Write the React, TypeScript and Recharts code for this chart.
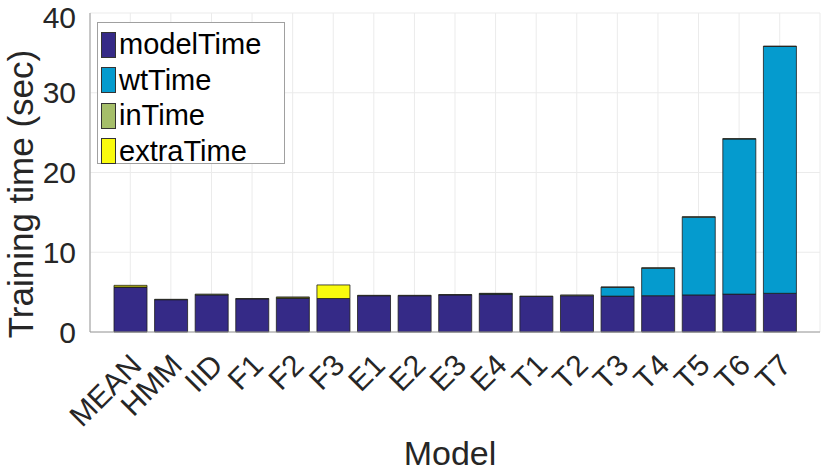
import { BarChart, Bar, XAxis, YAxis, CartesianGrid, Label } from 'recharts'

const categories = ['MEAN', 'HMM', 'IID', 'F1', 'F2', 'F3', 'E1', 'E2', 'E3', 'E4', 'T1', 'T2', 'T3', 'T4', 'T5', 'T6', 'T7']
const modelTime = [5.6, 4.05, 4.65, 4.15, 4.2, 4.2, 4.55, 4.55, 4.65, 4.7, 4.45, 4.55, 4.5, 4.55, 4.65, 4.75, 4.85]
const wtTime = [0, 0, 0, 0, 0, 0, 0, 0, 0, 0.1, 0, 0, 1.1, 3.45, 9.75, 19.45, 30.95]
const inTime = [0.05, 0.05, 0.1, 0.05, 0.1, 0, 0.05, 0.05, 0.05, 0.05, 0.05, 0.1, 0.05, 0.05, 0.05, 0.05, 0.05]
const extraTime = [0.2, 0, 0, 0, 0.1, 1.7, 0, 0, 0, 0, 0, 0, 0, 0, 0, 0, 0]
const yTicks = [0, 10, 20, 30, 40]

const series = [
  { key: 'modelTime', color: '#352a87' },
  { key: 'wtTime', color: '#059bce' },
  { key: 'inTime', color: '#a5be6a' },
  { key: 'extraTime', color: '#f9fb0e' }
]

const data = categories.map((name, i) => ({
  name,
  modelTime: modelTime[i],
  wtTime: wtTime[i],
  inTime: inTime[i],
  extraTime: extraTime[i]
}))

const font = '"Liberation Sans", Arial, Helvetica, sans-serif'
const frame = '#9a9a9a'
const ink = '#262626'

// rotated x tick labels, like MATLAB's XTickLabelRotation = 45
const XTick = (props: any) => {
  const { x, y, payload } = props
  return (
    <g transform={`translate(${x + 13},${y + 35}) rotate(-45)`}>
      <text x={0} y={0} textAnchor="end" fontSize={30} fill={ink} fontFamily={font}>
        {payload.value}
      </text>
    </g>
  )
}

const LegendBox = () => (
  <div
    style={{
      position: 'absolute',
      left: 97,
      top: 22,
      width: 188,
      height: 142,
      boxSizing: 'border-box',
      border: '1px solid #a0a0a0',
      background: '#fff',
      padding: '4px 0 0 3px',
      fontFamily: font,
      fontSize: 29,
      color: '#000',
      lineHeight: 1
    }}
  >
    {series.map(s => (
      <div key={s.key} style={{ display: 'flex', alignItems: 'center', height: 35.5 }}>
        <span
          style={{
            display: 'inline-block',
            width: 15,
            height: 26,
            boxSizing: 'border-box',
            background: s.color,
            border: '1px solid #333',
            marginRight: 3
          }}
        />
        <span>{s.key}</span>
      </div>
    ))}
  </div>
)

export default function App() {
  return (
    <div style={{ position: 'absolute', left: 0, top: 0, width: 822, height: 473 }}>
      <BarChart
        width={822}
        height={473}
        data={data}
        margin={{ top: 13, right: 2, left: 0, bottom: 0 }}
        barSize={33}
      >
        <CartesianGrid stroke="#ebebeb" />
        <XAxis
          dataKey="name"
          height={141}
          interval={0}
          padding={{ left: 20, right: 20 }}
          tick={<XTick />}
          tickLine={false}
          tickSize={0}
          tickMargin={0}
          axisLine={{ stroke: frame }}
        >
          <Label
            content={() => (
              <text x={450} y={465} textAnchor="middle" fontSize={34} fill={ink} fontFamily={font}>
                Model
              </text>
            )}
          />
        </XAxis>
        <XAxis
          xAxisId="top"
          dataKey="name"
          orientation="top"
          height={0}
          padding={{ left: 20, right: 20 }}
          mirror
          interval={0}
          tick={false}
          tickSize={7}
          tickLine={{ stroke: frame }}
          axisLine={{ stroke: frame }}
        />
        <YAxis
          domain={[0, 40]}
          ticks={yTicks}
          width={90}
          tickLine={false}
          tickSize={0}
          tickMargin={14}
          axisLine={{ stroke: frame }}
          tick={{ fontSize: 30, fill: ink, fontFamily: font }}
        >
          <Label
            content={() => (
              <text
                transform="translate(33,194) rotate(-90)"
                textAnchor="middle"
                fontSize={35}
                fill={ink}
                fontFamily={font}
              >
                Training time (sec)
              </text>
            )}
          />
        </YAxis>
        <YAxis yAxisId="leftIn" domain={[0, 40]} ticks={yTicks} orientation="left" width={0} mirror tick={false} tickSize={7} tickLine={{ stroke: frame }} axisLine={false} />
        <YAxis yAxisId="right" domain={[0, 40]} ticks={yTicks} orientation="right" width={0} mirror tick={false} tickSize={7} tickLine={{ stroke: frame }} axisLine={{ stroke: frame }} />
        {series.map(s => (
          <Bar
            key={s.key}
            dataKey={s.key}
            stackId="t"
            fill={s.color}
            stroke="#1e1e1e"
            strokeWidth={0.8}
            isAnimationActive={false}
          />
        ))}
      </BarChart>
      <LegendBox />
    </div>
  )
}
